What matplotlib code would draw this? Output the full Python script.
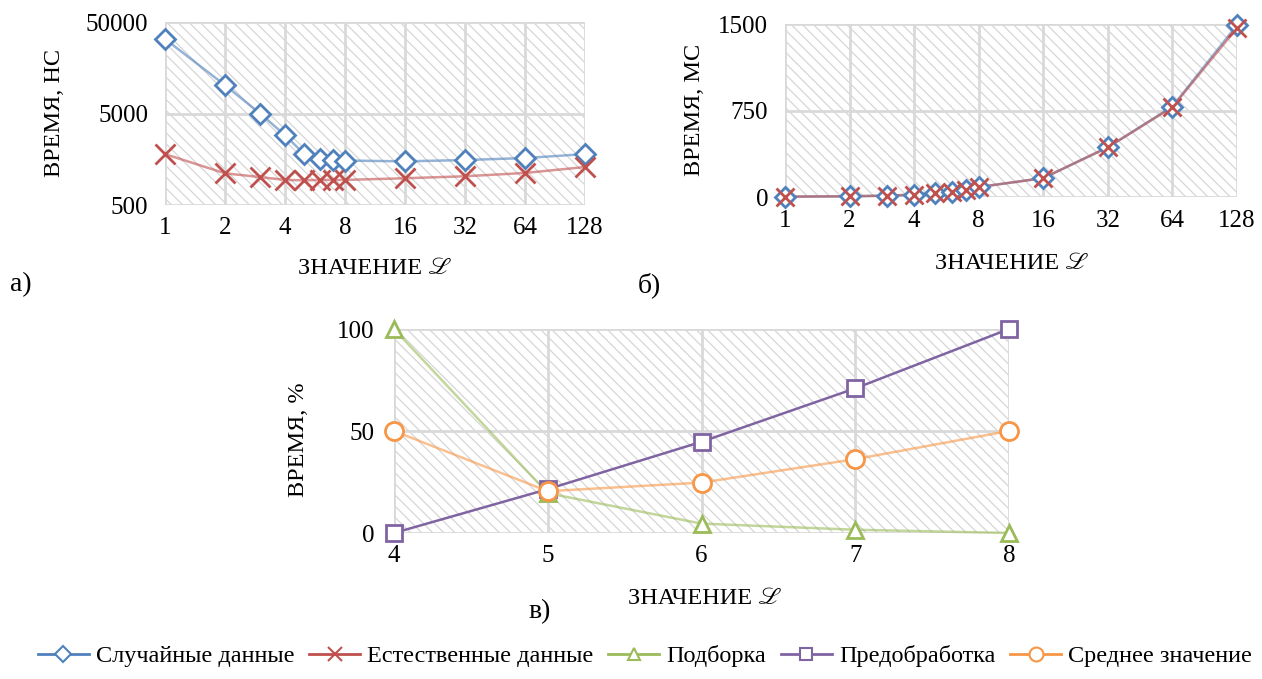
import matplotlib
matplotlib.use('Agg')
import matplotlib.pyplot as plt
from matplotlib.patches import Rectangle
from matplotlib.lines import Line2D

plt.rcParams['font.family'] = ['Liberation Serif', 'STIXGeneral', 'DejaVu Sans']
plt.rcParams['hatch.linewidth'] = 0.9

# данные
L_vals = [1, 2, 3, 4, 5, 6, 7, 8, 16, 32, 64, 128]
L_ticks = [1, 2, 4, 8, 16, 32, 64, 128]

random_ns = [32600, 10200, 5000, 2900, 1800, 1590, 1550, 1530, 1500, 1550, 1630, 1800]
natural_ns = [1800, 1110, 1010, 940, 930, 940, 940, 940, 980, 1030, 1120, 1300]

random_ms = [3, 6, 12, 20, 35, 45, 60, 86, 164, 431, 784, 1491]
natural_ms = [3, 6, 12, 20, 35, 45, 60, 86, 164, 431, 780, 1466]

L_small = [4, 5, 6, 7, 8]
podborka = [100, 19.5, 4.6, 1.6, 0]
predobr = [0, 21.5, 44.7, 70.9, 100]
srednee = [50, 20.5, 24.7, 36.2, 50]

BLUE = '#4f81bd'
RED = '#c0504d'
GREEN = '#9bbb59'
PURPLE = '#8064a2'
ORANGE = '#f79646'

FS = 17.5
W, H = 1262, 679
fig = plt.figure(figsize=(W / 100, H / 100), dpi=100)


def make_ax(l, r, t, b, ypad):
    ax = fig.add_axes([l / W, 1 - b / H, (r - l) / W, (b - t) / H])
    ax.set_facecolor('white')
    ax.add_patch(Rectangle((0, 0), 1, 1, transform=ax.transAxes, facecolor='white',
                           edgecolor='#d6d6d6', hatch='\\\\\\', lw=0, zorder=0))
    for s in ax.spines.values():
        s.set_visible(False)
    ax.grid(True, color='#d9d9d9', lw=2, zorder=1)
    ax.set_axisbelow(True)
    ax.tick_params(length=0, labelsize=18)
    ax.tick_params(axis='x', pad=9)
    ax.tick_params(axis='y', pad=ypad)
    return ax


def px(x, y):
    return x / W, 1 - y / H


mk = dict(markerfacecolor='white', markeredgewidth=2, zorder=3)

# а)
ax1 = make_ax(165, 585, 22, 205, 12)
ax1.set_xscale('log', base=2)
ax1.set_yscale('log')
ax1.plot(L_vals, random_ns, color=BLUE, lw=1.8, alpha=0.6, zorder=2)
ax1.plot(L_vals, random_ns, 'D', color=BLUE, ms=10, **mk)
ax1.plot(L_vals, natural_ns, color=RED, lw=1.8, alpha=0.6, zorder=2)
ax1.plot(L_vals, natural_ns, 'x', color=RED, ms=14, mew=2, zorder=3)
ax1.set_xlim(1, 128)
ax1.set_ylim(500, 50000)
ax1.set_xticks(L_ticks)
ax1.set_xticklabels([str(v) for v in L_ticks])
ax1.set_yticks([500, 5000, 50000])
ax1.set_yticklabels(['500', '5000', '50000'])
ax1.minorticks_off()

# б)
ax2 = make_ax(785, 1237, 24, 197, 12)
ax2.set_xscale('log', base=2)
ax2.plot(L_vals, random_ms, color=BLUE, lw=1.8, alpha=0.6, zorder=2)
ax2.plot(L_vals, random_ms, 'D', color=BLUE, ms=10, **mk)
ax2.plot(L_vals, natural_ms, color=RED, lw=1.8, alpha=0.6, zorder=2)
ax2.plot(L_vals, natural_ms, 'x', color=RED, ms=13, mew=2, zorder=3)
ax2.set_xlim(1, 128)
ax2.set_ylim(0, 1500)
ax2.set_xticks(L_ticks)
ax2.set_xticklabels([str(v) for v in L_ticks])
ax2.set_yticks([0, 750, 1500])
ax2.minorticks_off()

# в)
ax3 = make_ax(394, 1009, 329, 533, 14)
ax3.plot(L_small, podborka, color=GREEN, lw=1.8, alpha=0.6, zorder=2)
ax3.plot(L_small, podborka, '^', color=GREEN, ms=12, **mk)
ax3.plot(L_small, predobr, color=PURPLE, lw=1.8, zorder=2)
ax3.plot(L_small, predobr, 's', color=PURPLE, ms=12, **mk)
ax3.plot(L_small, srednee, color=ORANGE, lw=1.8, alpha=0.6, zorder=2)
ax3.plot(L_small, srednee, 'o', color=ORANGE, ms=13, **mk)
ax3.set_xlim(4, 8)
ax3.set_ylim(0, 100)
ax3.set_xticks(L_small)
ax3.set_yticks([0, 50, 100])

for ax in (ax1, ax2, ax3):
    for line in ax.lines:
        line.set_clip_on(False)

# подписи осей
for (x, y), txt in [((375, 269), 'ЗНАЧЕНИЕ ℒ'), ((1012, 264), 'ЗНАЧЕНИЕ ℒ'), ((705, 598), 'ЗНАЧЕНИЕ ℒ')]:
    fig.text(*px(x, y), txt, fontsize=FS, ha='center', va='center')
for (x, y), txt in [((55, 113), 'ВРЕМЯ, НС'), ((695, 110), 'ВРЕМЯ, МС'), ((298, 440), 'ВРЕМЯ, %')]:
    fig.text(*px(x, y), txt, fontsize=FS, ha='center', va='center', rotation=90)

fig.text(*px(10, 285), 'а)', fontsize=20, va='center')
fig.text(*px(638, 285), 'б)', fontsize=20, va='center')
fig.text(*px(528, 612), 'в)', fontsize=20, va='center')

names = ['Случайные данные', 'Естественные данные', 'Подборка', 'Предобработка', 'Среднее значение']
handles = [
    Line2D([], [], color=BLUE, marker='D', ms=8, mfc='white', mew=1.5, lw=2),
    Line2D([], [], color=RED, marker='x', ms=10, mew=1.5, lw=2),
    Line2D([], [], color=GREEN, marker='^', ms=9, mfc='white', mew=1.5, lw=2),
    Line2D([], [], color=PURPLE, marker='s', ms=9, mfc='white', mew=1.5, lw=2),
    Line2D([], [], color=ORANGE, marker='o', ms=10, mfc='white', mew=1.5, lw=2),
]
fig.legend(handles, names, loc='center', bbox_to_anchor=(*px(645, 656),), ncol=5,
           frameon=False, fontsize=FS, handlelength=2.1, handletextpad=0.3,
           columnspacing=0.6)

fig.savefig('out.png', dpi=100)
